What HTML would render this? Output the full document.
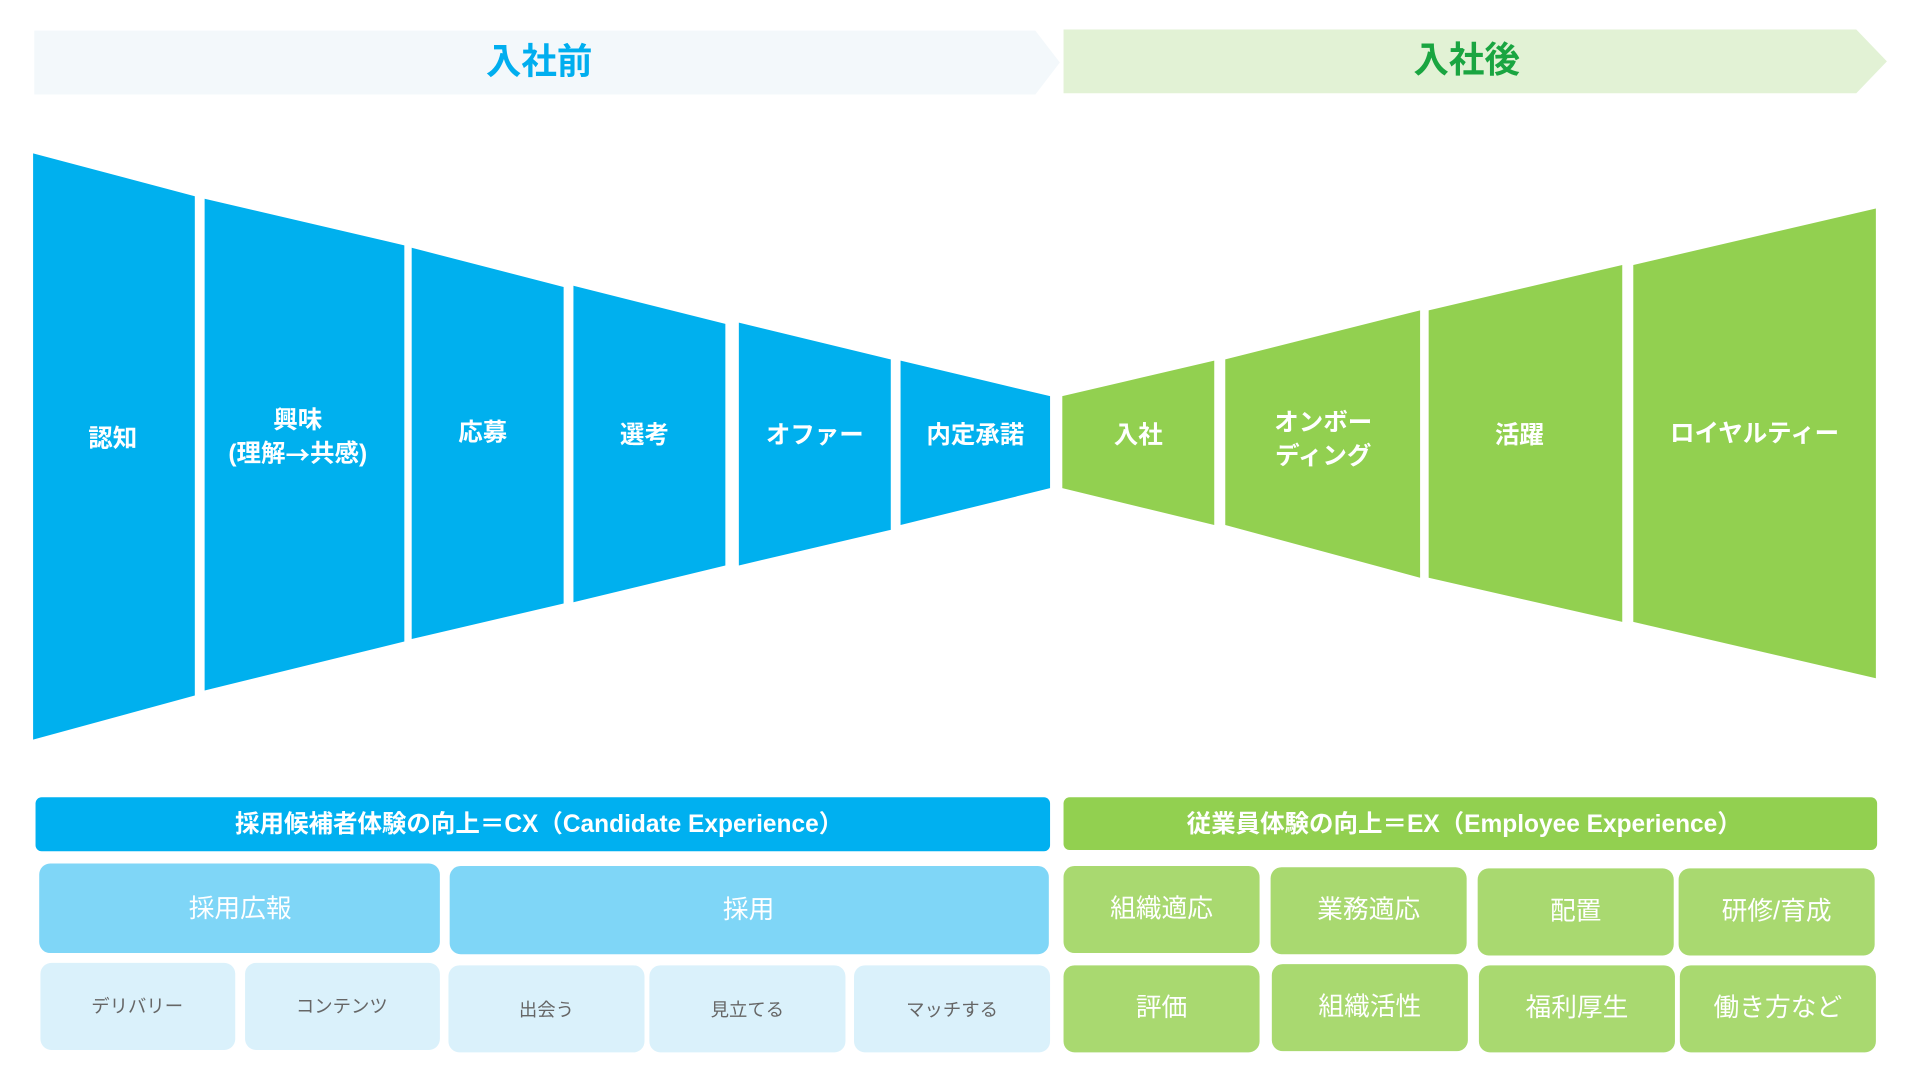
<!DOCTYPE html>
<html><head><meta charset="utf-8"><style>
html,body{margin:0;padding:0;background:#fff;width:1920px;height:1080px;overflow:hidden}
svg{display:block}
text{font-family:"Liberation Sans","Noto Sans CJK JP",sans-serif;text-anchor:middle;dominant-baseline:central}
.w{fill:#fff;font-weight:bold;font-size:20px}
.b{fill:#fff;font-size:21px}
.g{fill:#666;font-size:15px}
</style></head><body>
<svg width="1920" height="1080" viewBox="0 0 1567 880.5" preserveAspectRatio="none">
<polygon points="28,25 845,25 865,51 845,77 28,77" fill="#f3f8fb"/>
<text x="440" y="50" style="fill:#00aeef;font-size:29px;font-weight:bold">入社前</text>
<polygon points="868,24 1515,24 1540,50 1515,76 868,76" fill="#e2f2d5"/>
<text x="1197" y="49" style="fill:#1aa541;font-size:29px;font-weight:bold">入社後</text>
<g fill="#00b0ee">
<polygon points="27,125 159,160 159,567 27,603"/>
<polygon points="167,162 330,200 330,523 167,563"/>
<polygon points="336,202 460,234 460,492 336,521"/>
<polygon points="468,233 592,264 592,461 468,491"/>
<polygon points="603,263 727,293 727,432 603,461"/>
<polygon points="735,294 857,323 857,398 735,428"/>
</g>
<g fill="#92d050">
<polygon points="867,323 991,294 991,428 867,398"/>
<polygon points="1000,293 1159,253 1159,471 1000,428"/>
<polygon points="1166,253 1324,216 1324,507 1166,471"/>
<polygon points="1333,216 1531,170 1531,553 1333,507"/>
</g>
<text class="w" x="92" y="358">認知</text>
<text class="w" x="243" y="343">興味</text>
<text class="w" x="243" y="370">(理解<tspan style="font-family:'Noto Sans CJK JP',sans-serif">→</tspan>共感)</text>
<text class="w" x="394" y="353">応募</text>
<text class="w" x="526" y="355">選考</text>
<text class="w" x="665" y="355">オファー</text>
<text class="w" x="796" y="355">内定承諾</text>
<text class="w" x="929" y="355">入社</text>
<text class="w" x="1080" y="345">オンボー</text>
<text class="w" x="1080" y="372">ディング</text>
<text class="w" x="1240" y="355">活躍</text>
<text class="w" x="1432" y="354">ロイヤルティー</text>
<rect x="29" y="650" width="828" height="44" rx="5" fill="#00b0f0"/>
<text class="w" x="440" y="672">採用候補者体験の向上＝CX（Candidate Experience）</text>
<rect x="868" y="650" width="664" height="43" rx="5" fill="#92d050"/>
<text class="w" x="1195" y="672">従業員体験の向上＝EX（Employee Experience）</text>
<rect x="32" y="704" width="327" height="73" rx="9" fill="#7fd6f7"/>
<text class="b" x="196" y="741">採用広報</text>
<rect x="367" y="706" width="489" height="72" rx="9" fill="#7fd6f7"/>
<text class="b" x="611" y="742">採用</text>
<g fill="#daf1fb">
<rect x="33" y="785" width="159" height="71" rx="9"/>
<rect x="200" y="785" width="159" height="71" rx="9"/>
<rect x="366" y="787" width="160" height="71" rx="9"/>
<rect x="530" y="787" width="160" height="71" rx="9"/>
<rect x="697" y="787" width="160" height="71" rx="9"/>
</g>
<text class="g" x="112" y="820">デリバリー</text>
<text class="g" x="279" y="820">コンテンツ</text>
<text class="g" x="446" y="823">出会う</text>
<text class="g" x="610" y="823">見立てる</text>
<text class="g" x="777" y="823">マッチする</text>
<g fill="#a9d970">
<rect x="868" y="706" width="160" height="71" rx="9"/>
<rect x="1037" y="707" width="160" height="71" rx="9"/>
<rect x="1206" y="708" width="160" height="71" rx="9"/>
<rect x="1370" y="708" width="160" height="71" rx="9"/>
<rect x="868" y="787" width="160" height="71" rx="9"/>
<rect x="1038" y="786" width="160" height="71" rx="9"/>
<rect x="1207" y="787" width="160" height="71" rx="9"/>
<rect x="1371" y="787" width="160" height="71" rx="9"/>
</g>
<text class="b" x="948" y="741">組織適応</text>
<text class="b" x="1117" y="742">業務適応</text>
<text class="b" x="1286" y="743">配置</text>
<text class="b" x="1450" y="743">研修/育成</text>
<text class="b" x="948" y="822">評価</text>
<text class="b" x="1118" y="821">組織活性</text>
<text class="b" x="1287" y="822">福利厚生</text>
<text class="b" x="1451" y="822">働き方など</text>
</svg>
</body></html>
